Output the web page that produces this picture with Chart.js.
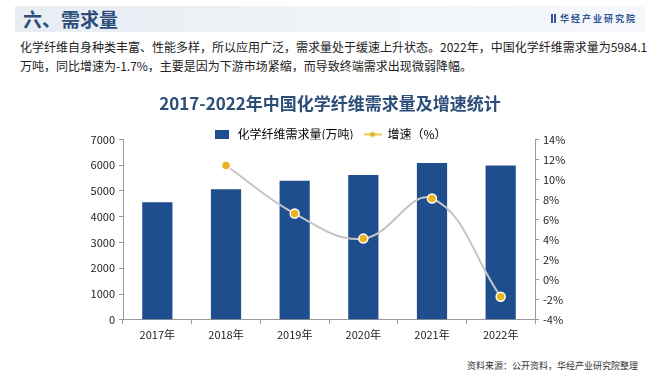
<!DOCTYPE html>
<html lang="zh">
<head>
  <meta charset="UTF-8" />
  <title>化学纤维需求量</title>
  <script src="https://cdn.jsdelivr.net/npm/chart.js"></script>
  <style>
    body {
      margin: 0;
      width: 660px;
      height: 374px;
      background: #fff;
      font-family: "Noto Sans CJK SC", "Noto Sans", sans-serif;
      position: relative;
      overflow: hidden;
    }
    .band {
      position: absolute;
      left: 15px; top: 6px;
      width: 630px; height: 26px;
      background: linear-gradient(90deg, #e8edf4 0%, #f1f4f8 60%, #f6f8fb 100%);
    }
    .band h2 {
      position: absolute;
      left: 8px; top: 0;
      margin: 0;
      font-size: 19px;
      line-height: 26px;
      color: #2b4d7c;
      font-weight: bold;
    }
    .logo {
      position: absolute;
      right: 8px; top: 0;
      font-size: 9px;
      line-height: 26px;
      color: #2f5597;
      letter-spacing: 2px;
      font-weight: bold;
    }
    .logo b {
      display: inline-block;
      width: 5px; height: 9px;
      border-left: 2px solid #2f5597;
      border-right: 2px solid #2f5597;
      box-sizing: border-box;
      margin-right: 4px;
      vertical-align: -1px;
    }
    p.desc {
      position: absolute;
      left: 20px; top: 37px;
      width: 630px;
      margin: 0;
      font-size: 12px;
      line-height: 19px;
      color: #222;
    }
    .chart {
      position: absolute;
      left: 0; top: 88px;
      width: 660px; height: 257px;
    }
    .source {
      position: absolute;
      right: 22px; top: 359px;
      font-size: 9px;
      color: #333;
    }
  </style>
</head>
<body>
  <div class="band">
    <h2>六、需求量</h2>
    <div class="logo"><b></b>华经产业研究院</div>
  </div>
  <p class="desc">化学纤维自身种类丰富、性能多样，所以应用广泛，需求量处于缓速上升状态。2022年，中国化学纤维需求量为5984.1万吨，同比增速为-1.7%，主要是因为下游市场紧缩，而导致终端需求出现微弱降幅。</p>
  <div class="chart"><canvas id="demandChart"></canvas></div>
  <div class="source">资料来源：公开资料，华经产业研究院整理</div>

  <script>
    const years = ['2017年', '2018年', '2019年', '2020年', '2021年', '2022年'];
    const demand = [4560, 5065, 5400, 5620, 6085, 5984.1];
    const growth = [null, 11.4, 6.6, 4.1, 8.1, -1.7];

    const barColor = '#1e4e8d';
    const lineColor = '#c4c4c4';
    const dotColor = '#e8b420';
    const font = '"Noto Sans CJK SC", "Noto Sans", sans-serif';

    // legend icons
    function barIcon() {
      const c = document.createElement('canvas');
      c.width = 14; c.height = 9;
      const g = c.getContext('2d');
      g.fillStyle = barColor;
      g.fillRect(0, 0, 14, 9);
      return c;
    }
    function lineIcon() {
      const c = document.createElement('canvas');
      c.width = 18; c.height = 8;
      const g = c.getContext('2d');
      g.strokeStyle = dotColor;
      g.lineWidth = 1.5;
      g.beginPath(); g.moveTo(0, 4); g.lineTo(18, 4); g.stroke();
      g.fillStyle = dotColor;
      g.beginPath(); g.arc(9, 4, 2.5, 0, Math.PI * 2); g.fill();
      return c;
    }
    const icons = [barIcon(), lineIcon()];

    new Chart(document.getElementById('demandChart'), {
      data: {
        labels: years,
        datasets: [{
          type: 'bar',
          label: '化学纤维需求量(万吨)',
          data: demand,
          backgroundColor: barColor,
          yAxisID: 'y',
          barPercentage: 0.44,
          categoryPercentage: 1,
          order: 2
        }, {
          type: 'line',
          label: '增速（%）',
          data: growth,
          borderColor: lineColor,
          borderWidth: 2,
          tension: 0.4,
          pointRadius: 4.5,
          pointBackgroundColor: dotColor,
          pointBorderColor: '#fff',
          pointBorderWidth: 1.5,
          yAxisID: 'y1',
          order: 1
        }]
      },
      options: {
        responsive: true,
        maintainAspectRatio: false,
        animation: false,
        layout: { padding: { left: 0, right: 0, top: 5, bottom: 0 } },
        plugins: {
          title: {
            display: true,
            text: '2017-2022年中国化学纤维需求量及增速统计',
            color: '#2e4e7a',
            font: { family: font, size: 17, weight: 'bold' },
            padding: { top: 0, bottom: 5 }
          },
          legend: {
            display: true,
            maxHeight: 21,
            labels: {
              color: '#222',
              font: { family: font, size: 12 },
              usePointStyle: true,
              pointStyleWidth: 18,
              padding: 10,
              generateLabels: chart => chart.data.datasets.map((ds, i) => ({
                text: ds.label,
                pointStyle: icons[i],
                fillStyle: 'transparent',
                strokeStyle: 'transparent',
                lineWidth: 0,
                hidden: false,
                datasetIndex: i
              }))
            }
          },
          tooltip: { enabled: false }
        },
        scales: {
          x: {
            offset: true,
            grid: { display: true, drawOnChartArea: false, drawTicks: true, tickLength: 4, color: '#999', offset: true },
            border: { display: true, color: '#999' },
            ticks: { color: '#222', font: { family: font, size: 11 }, padding: 4 }
          },
          y: {
            position: 'left',
            min: 0,
            max: 7000,
            ticks: { stepSize: 1000, color: '#222', font: { family: font, size: 11 }, padding: 4, callback: v => String(v) },
            grid: { display: true, drawOnChartArea: false, drawTicks: true, tickLength: 4, color: '#999' },
            border: { display: true, color: '#999' },
            afterFit: s => { s.width = 123; }
          },
          y1: {
            position: 'right',
            min: -4,
            max: 14,
            ticks: { stepSize: 2, color: '#222', font: { family: font, size: 11 }, padding: 4, callback: v => v + '%' },
            grid: { display: true, drawOnChartArea: false, drawTicks: true, tickLength: 4, color: '#999' },
            border: { display: true, color: '#999' },
            afterFit: s => { s.width = 125; }
          }
        }
      }
    });
  </script>
</body>
</html>
